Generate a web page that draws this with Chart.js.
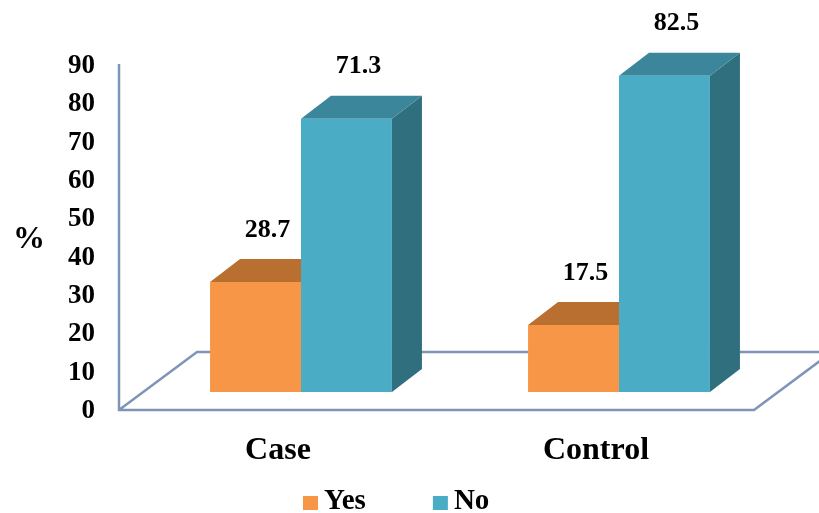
<!DOCTYPE html>
<html><head><meta charset="utf-8">
<script src="https://cdn.jsdelivr.net/npm/chart.js@4/dist/chart.umd.min.js"></script>
<style>html,body{margin:0;padding:0;background:#fff}#wrap{width:819px;height:513px;position:relative}</style>
</head><body><div id="wrap"><canvas id="c" width="819" height="513"></canvas></div>
<script>
// ---- data ----
const categories = ['Case', 'Control'];
const seriesNames = ['Yes', 'No'];
const yesValues = [28.7, 17.5];
const noValues = [71.3, 82.5];
const yMin = 0, yMax = 90, yStep = 10;
const yAxisTitle = '%';

// ---- styles ----
const FONT = "'Liberation Serif', 'Times New Roman', serif";
const faceColors = {
  Yes: { front: '#F79646', top: '#B96F30', side: '#9A5A24' },
  No:  { front: '#4BACC6', top: '#3B869B', side: '#306F7D' }
};
const DX = 30, DY = -23;      // bar depth offset
const LIFT = 19;              // bars sit above the front floor edge
const FLOOR_DX = 78, FLOOR_DY = -58;
const FLOOR_COLOR = '#7F95B8';

function poly(ctx, pts, fill) {
  ctx.beginPath();
  ctx.moveTo(pts[0][0], pts[0][1]);
  for (let i = 1; i < pts.length; i++) ctx.lineTo(pts[i][0], pts[i][1]);
  ctx.closePath();
  ctx.fillStyle = fill;
  ctx.fill();
}

const threeD = {
  id: 'threeD',
  beforeDatasetsDraw(chart) {
    const ctx = chart.ctx;
    const ys = chart.scales.y, ca = chart.chartArea;
    const y0 = ys.getPixelForValue(yMin) - 1;
    const yTop = ys.getPixelForValue(yMax) - 2;
    const xl = ca.left - 23, xr = ca.right - 24;
    ctx.save();
    ctx.strokeStyle = FLOOR_COLOR;
    ctx.lineWidth = 2.5;
    ctx.beginPath();
    ctx.moveTo(xl, yTop); ctx.lineTo(xl, y0);
    ctx.lineTo(xr, y0);
    ctx.lineTo(xr + FLOOR_DX, y0 + FLOOR_DY);
    ctx.moveTo(xl, y0); ctx.lineTo(xl + FLOOR_DX, y0 + FLOOR_DY);
    ctx.lineTo(chart.width + 20, y0 + FLOOR_DY);
    ctx.stroke();
    ctx.restore();
  },
  beforeDatasetDraw() {
    return false; // bars are drawn below, in front-to-back order
  },
  afterDatasetsDraw(chart) {
    const ctx = chart.ctx;
    ctx.save();
    ctx.translate(0, -LIFT);
    chart.data.datasets.forEach((ds, i) => {
      const c = faceColors[ds.label];
      chart.getDatasetMeta(i).data.forEach(bar => {
        const p = bar.getProps(['x', 'y', 'base', 'width'], true);
        const l = p.x - p.width / 2, r = p.x + p.width / 2;
        poly(ctx, [[r, p.y], [r + DX, p.y + DY], [r + DX, p.base + DY], [r, p.base]], c.side);
        poly(ctx, [[l, p.y], [l + DX, p.y + DY], [r + DX, p.y + DY], [r, p.y]], c.top);
        bar.draw(ctx);
      });
    });
    ctx.restore();

    ctx.save();
    ctx.fillStyle = '#000';
    ctx.font = "bold 26px " + FONT;
    ctx.textAlign = 'center';
    ctx.textBaseline = 'middle';
    chart.data.datasets.forEach((ds, i) => {
      chart.getDatasetMeta(i).data.forEach((bar, j) => {
        const p = bar.getProps(['x', 'y'], true);
        ctx.fillText(ds.data[j].toFixed(1), p.x + 12, p.y - LIFT - 52);
      });
    });
    ctx.font = "bold 32px " + FONT;
    ctx.fillText(yAxisTitle, 29, 240);

    // legend
    ctx.font = "bold 29px " + FONT;
    ctx.textAlign = 'left';
    let x = 303;
    const ly = 502;
    chart.data.datasets.forEach(ds => {
      ctx.fillStyle = ds.backgroundColor;
      ctx.fillRect(x, ly - 6, 15, 14);
      ctx.fillStyle = '#000';
      ctx.fillText(ds.label, x + 21, ly);
      x += 21 + ctx.measureText(ds.label).width + 67;
    });
    ctx.restore();
  }
};

new Chart(document.getElementById('c'), {
  type: 'bar',
  data: {
    labels: categories,
    datasets: [
      { label: seriesNames[0], data: yesValues, backgroundColor: faceColors.Yes.front, borderWidth: 0 },
      { label: seriesNames[1], data: noValues, backgroundColor: faceColors.No.front, borderWidth: 0 }
    ]
  },
  options: {
    responsive: false,
    animation: false,
    devicePixelRatio: 1,
    layout: { padding: { top: 66, left: 26, right: 41, bottom: 0 } },
    datasets: { bar: { barPercentage: 1, categoryPercentage: 0.572 } },
    scales: {
      x: {
        grid: { display: false }, border: { display: false },
        ticks: { color: '#000', font: { family: FONT, size: 32, weight: 'bold' }, padding: 13, labelOffset: -23, maxRotation: 0, autoSkip: false },
        afterFit(s) { s.height = 102; }
      },
      y: {
        min: yMin, max: yMax,
        grid: { display: false, drawTicks: false }, border: { display: false },
        ticks: { stepSize: yStep, color: '#000', font: { family: FONT, size: 27, weight: 'bold' }, padding: 47 },
        afterFit(s) { s.width = 116; }
      }
    },
    plugins: {
      legend: { display: false },
      tooltip: { enabled: false }
    }
  },
  plugins: [threeD]
});
</script>
</body></html>
